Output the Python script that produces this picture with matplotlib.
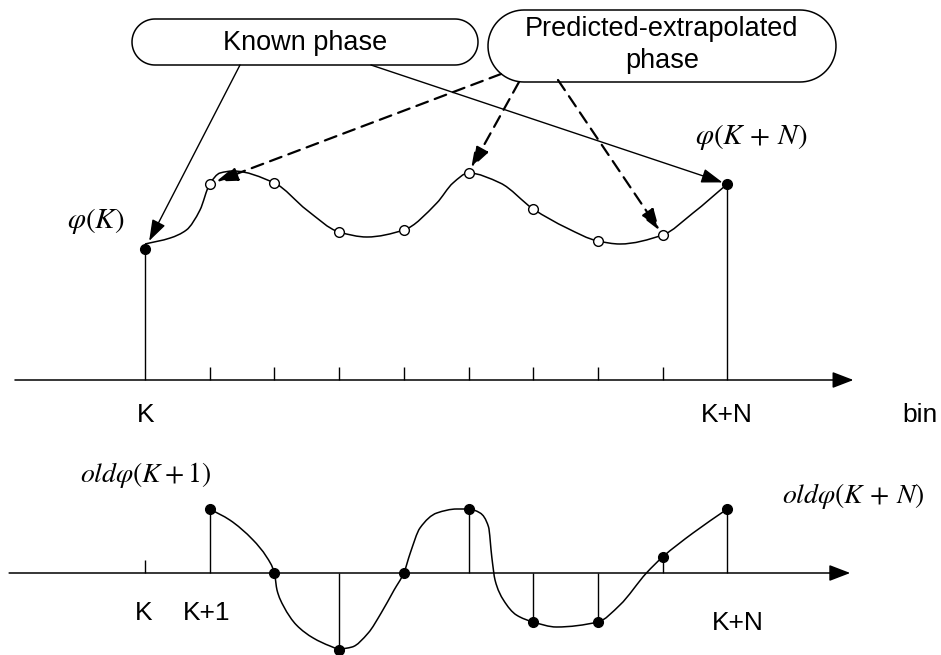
import numpy as np
import matplotlib
matplotlib.use("Agg")
import matplotlib.pyplot as plt
from matplotlib.path import Path
from matplotlib.patches import PathPatch, Polygon

plt.rcParams['font.family'] = ['Liberation Sans', 'DejaVu Sans']
plt.rcParams['mathtext.fontset'] = 'stix'

# bins K ... K+N
bins = np.arange(10)

# top: phase per bin (known at both ends, predicted in between)
phase = np.array([1.31, 1.96, 1.97, 1.48, 1.50, 2.07, 1.71, 1.39, 1.45, 1.96])
known_idx = [0, 9]
pred_idx = [1, 2, 3, 4, 5, 6, 7, 8]

# top curve
top_curve_x = [0.0, 0.39, 0.64, 0.85, 1.0, 1.16, 1.365, 2.0, 2.5, 3.0, 3.43,
               4.0, 4.51, 4.76, 5.0, 5.49, 6.0, 6.52, 7.0, 7.34, 8.0, 8.47, 9.0]
top_curve_y = [1.36, 1.42, 1.50, 1.70, 1.96, 2.07, 2.09, 1.97, 1.70, 1.48, 1.43,
               1.50, 1.77, 1.97, 2.07, 1.97, 1.71, 1.52, 1.39, 1.36, 1.45, 1.67, 1.96]

# bottom: old phase, bins K+1 ... K+N
old_bins = bins[1:]
old_phase = np.array([0.64, 0.0, -0.77, 0.0, 0.64, -0.49, -0.49, 0.16, 0.64])

# bottom curve
bot_curve_x = [1.0, 1.31, 1.67, 1.88, 2.0, 2.04, 2.14, 2.34, 2.60, 2.86, 3.0, 3.2,
               3.45, 3.65, 3.85, 4.0, 4.10, 4.25, 4.51, 4.82, 5.0, 5.18, 5.31, 5.36,
               5.41, 5.54, 5.74, 6.0, 6.36, 7.0, 7.34, 7.75, 8.0, 8.47, 9.0]
bot_curve_y = [0.64, 0.53, 0.33, 0.16, 0.0, -0.17, -0.33, -0.52, -0.65, -0.73, -0.76, -0.74,
               -0.60, -0.40, -0.17, 0.0, 0.20, 0.45, 0.60, 0.64, 0.64, 0.60, 0.46, 0.16,
               -0.07, -0.27, -0.42, -0.49, -0.54, -0.49, -0.32, 0.0, 0.16, 0.40, 0.64]


def smooth_path(xs, ys):
    # monotone cubic through the traced points, drawn as bezier segments
    x = np.asarray(xs, float)
    y = np.asarray(ys, float)
    h = np.diff(x)
    d = np.diff(y) / h
    m = np.zeros_like(y)
    m[0] = d[0]
    m[-1] = d[-1]
    for k in range(1, len(x) - 1):
        if d[k - 1] * d[k] <= 0:
            m[k] = 0.0
        else:
            w1 = 2 * h[k] + h[k - 1]
            w2 = h[k] + 2 * h[k - 1]
            m[k] = (w1 + w2) / (w1 / d[k - 1] + w2 / d[k])
    verts = [(x[0], y[0])]
    codes = [Path.MOVETO]
    for k in range(len(x) - 1):
        verts += [(x[k] + h[k] / 3, y[k] + m[k] * h[k] / 3),
                  (x[k + 1] - h[k] / 3, y[k + 1] - m[k + 1] * h[k] / 3),
                  (x[k + 1], y[k + 1])]
        codes += [Path.CURVE4] * 3
    return Path(verts, codes)


def pill(x0, y0, w, h):
    # rounded box with half-circle ends, pixel units
    r = h / 2
    yc = y0 + r
    t = np.linspace(-np.pi / 2, np.pi / 2, 40)
    right = np.column_stack([x0 + w - r + r * np.cos(t), yc + r * np.sin(t)])
    left = np.column_stack([x0 + r - r * np.cos(t), yc - r * np.sin(t)])
    return Polygon(np.vstack([right, left]), closed=True, fc='white',
                   ec='black', lw=1.1)


fig = plt.figure(figsize=(9.41, 6.55), dpi=100)

# x: bin K sits at 145 px, 64.7 px per bin
x_lim = (-145 / 64.7, (941 - 145) / 64.7)

ax1 = fig.add_axes([0, 1 - 400 / 655, 1, 400 / 655])
ax1.set_xlim(*x_lim)
ax1.set_ylim(-0.2, 3.8)
ax1.axis('off')

ax2 = fig.add_axes([0, 0, 1, 255 / 655])
ax2.set_xlim(*x_lim)
ax2.set_ylim(-0.82, 1.73)
ax2.axis('off')

axis_arrow = dict(arrowstyle='-|>,head_length=0.65,head_width=0.25', color='black',
                  lw=1.1, shrinkA=0, shrinkB=0, mutation_scale=20)

# ---- top panel
ax1.annotate('', xy=(10.95, 0), xytext=(-2.01, 0), arrowprops=axis_arrow)
ax1.vlines(bins[1:9], 0, 0.13, color='black', lw=1)
ax1.vlines(bins[known_idx], 0, phase[known_idx], color='black', lw=1)
ax1.add_patch(PathPatch(smooth_path(top_curve_x, top_curve_y), fill=False,
                        lw=1.1, color='black', zorder=3))
ax1.plot(bins[pred_idx], phase[pred_idx], 'o', ms=7, mfc='white', mec='black',
         mew=1, zorder=4)
ax1.plot(bins[known_idx], phase[known_idx], 'o', ms=7, color='black', zorder=4)

# ---- bottom panel
ax2.annotate('', xy=(10.9, 0), xytext=(-2.1, 0), arrowprops=axis_arrow)
ax2.vlines(bins[0], 0, 0.13, color='black', lw=1)
ax2.vlines(old_bins, 0, old_phase, color='black', lw=1)
ax2.add_patch(PathPatch(smooth_path(bot_curve_x, bot_curve_y), fill=False,
                        lw=1.1, color='black', zorder=3))
ax2.plot(old_bins, old_phase, 'o', ms=7, color='black', zorder=4)

# ---- overlay in pixel units for boxes, labels and callouts
lay = fig.add_axes([0, 0, 1, 1])
lay.set_xlim(0, 941)
lay.set_ylim(655, 0)
lay.axis('off')
lay.patch.set_alpha(0)

lay.add_patch(pill(132, 19, 346, 46))
lay.add_patch(pill(488, 10, 348, 72))
lay.text(305, 43, 'Known phase', fontsize=19.5, ha='center', va='center')
lay.text(662, 45, 'Predicted-extrapolated\nphase', fontsize=19.5, ha='center',
         va='center', linespacing=1.25)

solid = dict(arrowstyle='-|>,head_length=0.65,head_width=0.22', color='black',
             lw=1.0, shrinkA=0, mutation_scale=20)
dashed = dict(arrowstyle='-|>,head_length=0.65,head_width=0.22', color='black',
              lw=1.6, shrinkA=0, mutation_scale=20, linestyle=(0, (5.5, 3.3)))

lay.annotate('', xy=(bins[0], phase[0]), xycoords=ax1.transData,
             xytext=(240, 65), textcoords=lay.transData,
             arrowprops=dict(solid, shrinkB=6.5))
lay.annotate('', xy=(bins[9], phase[9]), xycoords=ax1.transData,
             xytext=(371, 65), textcoords=lay.transData,
             arrowprops=dict(solid, shrinkB=3.6))
for i, start, sb in [(1, (501, 74), 5), (5, (519, 82), 4), (8, (558, 80), 4)]:
    lay.annotate('', xy=(bins[i], phase[i]), xycoords=ax1.transData,
                 xytext=start, textcoords=lay.transData,
                 arrowprops=dict(dashed, shrinkB=sb))

# labels
lay.text(96, 221, r'$\varphi(K)$', fontsize=21, ha='center', va='center')
lay.text(751, 137, r'$\varphi(K\,+\,N)$', fontsize=21, ha='center', va='center')
lay.text(146, 415, 'K', fontsize=19, ha='center', va='center')
lay.text(727, 415, 'K+N', fontsize=19, ha='center', va='center')
lay.text(920, 415, 'bin', fontsize=19, ha='center', va='center')
lay.text(146, 475, r'$old\varphi(K+1)$', fontsize=20, ha='center', va='center')
lay.text(853, 496, r'$old\varphi(K\,+\,N)$', fontsize=20, ha='center', va='center')
lay.text(144, 613, 'K', fontsize=19, ha='center', va='center')
lay.text(207, 613, 'K+1', fontsize=19, ha='center', va='center')
lay.text(738, 623, 'K+N', fontsize=19, ha='center', va='center')

fig.savefig('out.png', dpi=100)
